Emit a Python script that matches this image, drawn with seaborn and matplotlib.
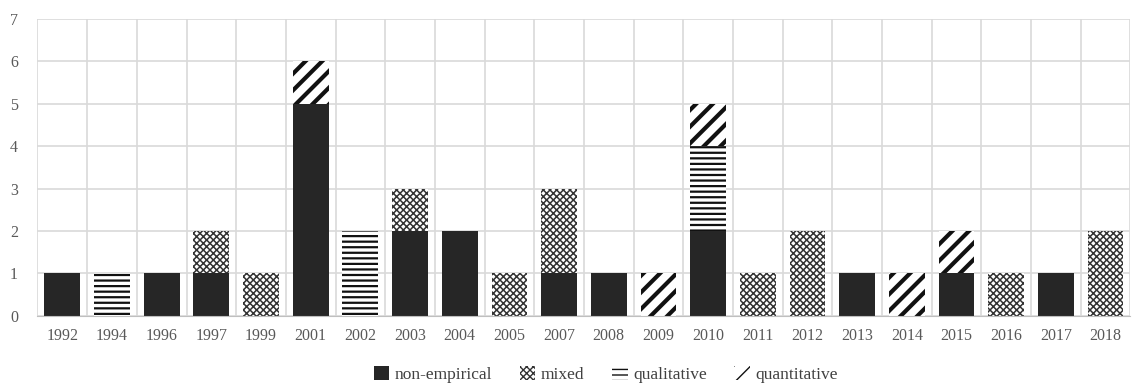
import numpy as np
import pandas as pd
import seaborn as sns
import matplotlib.pyplot as plt
from matplotlib.patches import Patch

years = ['1992', '1994', '1996', '1997', '1999', '2001', '2002', '2003', '2004', '2005', '2007',
         '2008', '2009', '2010', '2011', '2012', '2013', '2014', '2015', '2016', '2017', '2018']
non_empirical = [1, 0, 1, 1, 0, 5, 0, 2, 2, 0, 1, 1, 0, 2, 0, 0, 1, 0, 1, 0, 1, 0]
mixed = [0, 0, 0, 1, 1, 0, 0, 1, 0, 1, 2, 0, 0, 0, 1, 2, 0, 0, 0, 1, 0, 2]
qualitative = [0, 1, 0, 0, 0, 0, 2, 0, 0, 0, 0, 0, 0, 2, 0, 0, 0, 0, 0, 0, 0, 0]
quantitative = [0, 0, 0, 0, 0, 1, 0, 0, 0, 0, 0, 0, 1, 1, 0, 0, 0, 1, 1, 0, 0, 0]

sns.set_style('white')
plt.rcParams['font.family'] = ['Liberation Serif', 'DejaVu Serif']

fig, ax = plt.subplots(figsize=(11.36, 3.91), dpi=100)
fig.subplots_adjust(left=0.033, right=0.995, top=0.952, bottom=0.192)

# name, values, fill, hatch, hatch colour, hatch width
series = [
    ('non-empirical', non_empirical, '#262626', None, None, 0),
    ('mixed', mixed, 'white', 'xxxxx', '#333333', 1.1),
    ('qualitative', qualitative, 'white', '---', '#111111', 1.6),
    ('quantitative', quantitative, 'white', '//', '#111111', 3.0),
]

bottom = np.zeros(len(years))
handles = []
for name, vals, fill, hatch, hcol, hlw in series:
    df = pd.DataFrame({'year': years, 'n': vals})
    n_before = len(ax.patches)
    sns.barplot(data=df, x='year', y='n', ax=ax, bottom=bottom, width=0.72,
                color=fill, saturation=1, linewidth=0, errorbar=None)
    for p in ax.patches[n_before:]:
        if hatch:
            p.set_hatch(hatch)
            p.set_edgecolor(hcol)
            p.set_linewidth(0)
            p.set_hatch_linewidth(hlw)
    bottom = bottom + np.array(vals)
    h = Patch(facecolor=fill, hatch=hatch, edgecolor=hcol if hatch else fill, linewidth=0)
    handles.append(h)

ax.set_ylim(0, 7)
ax.set_xlim(-0.5, len(years) - 0.5)
ax.set_yticks(range(0, 8))
ax.set_xticks(np.arange(-0.5, len(years), 1), minor=True)
ax.grid(True, which='major', axis='y', color='#d9d9d9', linewidth=1.2)
ax.grid(True, which='minor', axis='x', color='#d9d9d9', linewidth=1.2)
ax.set_axisbelow(True)
for s in ['top', 'right', 'left']:
    ax.spines[s].set_visible(False)
ax.spines['bottom'].set_color('#bfbfbf')
ax.tick_params(axis='both', which='both', length=0, labelsize=11.5, colors='#595959')
ax.tick_params(axis='x', pad=9)
ax.tick_params(axis='y', pad=14)
ax.set_xlabel('')
ax.set_ylabel('')

ax.legend(handles, [s[0] for s in series], loc='upper center', bbox_to_anchor=(0.52, -0.115),
          ncol=4, frameon=False, fontsize=12.5, handlelength=0.9, handleheight=0.9,
          handletextpad=0.3, columnspacing=1.6, labelcolor='#404040')

plt.savefig('out.png', dpi=100)
